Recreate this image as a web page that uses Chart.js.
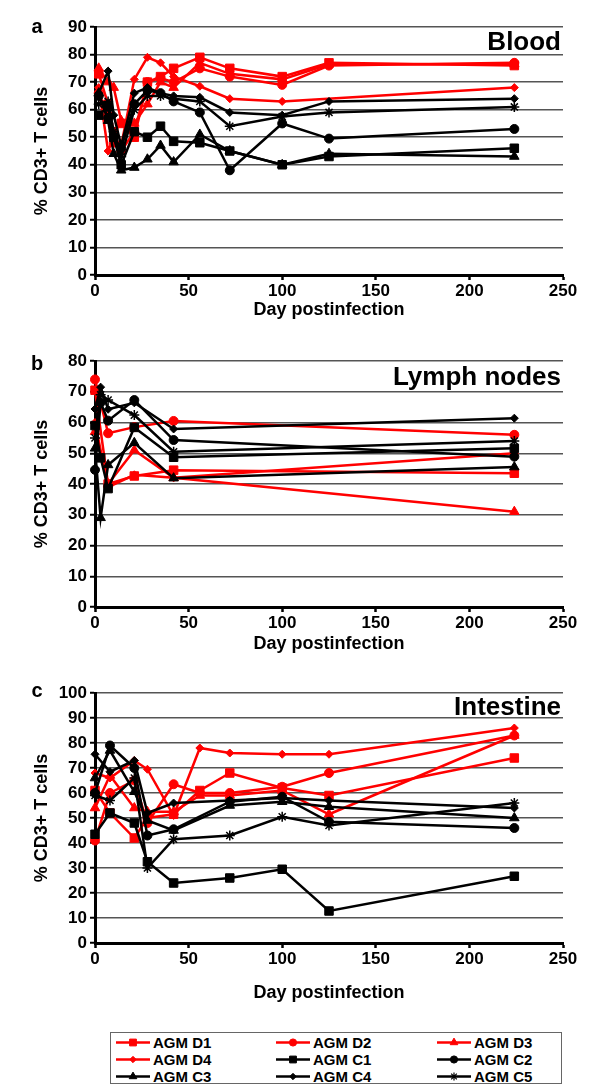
<!DOCTYPE html>
<html>
<head>
<meta charset="utf-8">
<script src="https://cdn.jsdelivr.net/npm/chart.js@4.4.0/dist/chart.umd.min.js"></script>
<style>
body{margin:0;background:#fff;width:600px;height:1091px;position:relative;overflow:hidden;font-family:"Liberation Sans",Arial,sans-serif;}
.panel{position:absolute;left:0;}
#legend{position:absolute;left:110px;top:1032px;width:452px;height:52px;border:1px solid #666;box-sizing:border-box;}
.item{position:absolute;height:17px;font-weight:bold;font-size:15px;line-height:17px;color:#000;}
.item canvas{position:absolute;left:0;top:0;}
.item span{position:absolute;left:37px;top:0;white-space:nowrap;}
</style>
</head>
<body>
<canvas id="blood" class="panel" width="600" height="330" style="top:0px"></canvas>
<canvas id="lymph" class="panel" width="600" height="330" style="top:330px"></canvas>
<canvas id="gut" class="panel" width="600" height="360" style="top:660px"></canvas>
<div id="legend"></div>
<script>
// series names and look
var seriesNames = ['AGM D1', 'AGM D2', 'AGM D3', 'AGM D4', 'AGM C1', 'AGM C2', 'AGM C3', 'AGM C4', 'AGM C5'];
var seriesColors = ['#ff0000', '#ff0000', '#ff0000', '#ff0000', '#000000', '#000000', '#000000', '#000000', '#000000'];
var seriesMarkers = ['rect', 'circle', 'triangle', 'rectRot', 'rect', 'circle', 'triangle', 'rectRot', 'star'];
var markerSizes = [6, 4.5, 5.5, 4, 6, 4.5, 5.5, 4, 5];

// a - Blood
var bloodDays = [2, 7, 10, 14, 21, 28, 35, 42, 56, 72, 100, 125, 224];
var bloodD1 = [73, 62, 52, 55, 50, 70, 72, 75, 79, 75, 72, 77, 76];
var bloodD2 = [66, 58, 48, 45, 52, 70, 71.5, 70, 75, 72, 69, 76, 77];
var bloodD3 = [75, 70, 68, 56, 55, 62, 70, 68, 77, 73, 71, 76.5, 76.5];
var bloodD4 = [68, 45, 50, 47, 71, 79, 77, 72, 68.5, 64, 63, null, 68];
var bloodC1 = [58, 61, 50, 40, 52, 50, 54, 48.5, 48, 45, 40, 43, 46];
var bloodC2 = [65, 57, 50, 46, 62, 67, 66, 63, 59, 38, 55, 49.5, 53];
var bloodC3 = [66, 56, 44, 38, 39, 42, 47, 41, 51, 45, 40, 44, 43];
var bloodC4 = [66, 74, 58, 47, 66, 68, 66, 65, 64.5, 59, 58, 63, 64];
var bloodC5 = [62, 63, 52, 43, 60, 65, 65, 64, 63, 54, 57.5, 59, 61];

// b - Lymph nodes
var lymphDays = [0, 3, 7, 21, 42, 224];
var lymphD1 = [70.5, null, 40, 42.6, 44.5, 43.5];
var lymphD2 = [74, null, 56.5, 58.5, 60.5, 56];
var lymphD3 = [57, null, 40, 51, 42, 31];
var lymphD4 = [60, null, 39, 43, 42, 50];
var lymphC1 = [59, 48.5, 38.5, 58.4, 48.7, 51.6];
var lymphC2 = [44.6, 66.5, 60.6, 67.3, 54.3, 48.9];
var lymphC3 = [51.6, 29, 46.2, 53.4, 41.9, 45.5];
var lymphC4 = [64.4, 71.5, 64.3, 66.4, 57.9, 61.4];
var lymphC5 = [55, 69, 67.3, 62.4, 50.5, 54];

// c - Intestine
var gutDays = [0, 8, 21, 28, 42, 56, 72, 100, 125, 224];
var gutD1 = [61, 52, 42, 50, 51.5, 61, 68, 62, 59, 74];
var gutD2 = [41, 60, 65, 48, 63.5, 60, 60, 62.5, 68, 83];
var gutD3 = [54, 67, 54, 52.5, 52.5, 59, 59, 61, 51.5, 83];
var gutD4 = [68, 66, 73, 69.5, 51, 78, 76, 75.5, 75.5, 86];
var gutC1 = [43.5, 52, 48, 32.5, 24, null, 26, 29.5, 12.8, 26.7];
var gutC2 = [60, 79, 70, 43, 45.5, null, 56.5, 58.5, 48.5, 46];
var gutC3 = [66, 77, 60.5, 49, 45, null, 55, 56.5, 54.5, 50];
var gutC4 = [75.5, 68.5, 73, 52, 56, null, 57, 58, 57, 54];
var gutC5 = [59, 57, 66, 30, 41.5, null, 43, 50.5, 47, 56];

var fontFamily = '"Liberation Sans", Arial, sans-serif';

var panelText = {
    id: 'panelText',
    afterDraw: function (chart, args, opts) {
        var ctx = chart.ctx;
        ctx.save();
        ctx.fillStyle = '#000';
        ctx.textBaseline = 'alphabetic';
        ctx.font = 'bold 20px ' + fontFamily;
        ctx.textAlign = 'center';
        ctx.fillText(opts.letter, 37, opts.letterY);
        ctx.font = 'bold 26px ' + fontFamily;
        ctx.textAlign = 'right';
        ctx.fillText(opts.title, 561, opts.titleY);
        ctx.restore();
    }
};

function buildSets(days, lists) {
    var sets = [];
    for (var i = 0; i < lists.length; i++) {
        var pts = [];
        for (var k = 0; k < days.length; k++) {
            if (lists[i][k] !== null) pts.push({x: days[k], y: lists[i][k]});
        }
        sets.push({
            label: seriesNames[i],
            data: pts,
            borderColor: seriesColors[i],
            backgroundColor: seriesColors[i],
            borderWidth: 2.5,
            pointStyle: seriesMarkers[i],
            pointRadius: markerSizes[i],
            pointBorderWidth: seriesMarkers[i] === 'star' ? 1.5 : 1,
            pointBackgroundColor: seriesColors[i],
            pointBorderColor: seriesColors[i],
            tension: 0,
            clip: false,
            order: 20 - i
        });
    }
    return sets;
}

function makePanel(id, days, lists, yMax, g) {
    var tickFont = {family: fontFamily, size: 17, weight: 'bold'};
    var titleFont = {family: fontFamily, size: 18, weight: 'bold'};
    return new Chart(document.getElementById(id).getContext('2d'), {
        type: 'line',
        data: {datasets: buildSets(days, lists)},
        plugins: [panelText],
        options: {
            responsive: false,
            animation: false,
            devicePixelRatio: 1,
            layout: {padding: {left: 0, right: 37, top: g.top, bottom: 0}},
            plugins: {
                legend: {display: false},
                tooltip: {enabled: false},
                panelText: {letter: g.letter, letterY: g.letterY, title: g.title, titleY: g.titleY}
            },
            scales: {
                x: {
                    type: 'linear', min: 0, max: 250,
                    ticks: {stepSize: 50, color: '#000', font: tickFont, padding: 1, maxRotation: 0},
                    grid: {drawOnChartArea: false, drawTicks: true, tickLength: 5, tickColor: '#000', tickWidth: 2.5},
                    border: {display: true, color: '#000', width: 3},
                    title: {display: true, text: 'Day postinfection', color: '#000', font: titleFont,
                        padding: {top: 0, bottom: g.titlePad}},
                    afterFit: function (s) { s.height = g.xh; }
                },
                y: {
                    min: 0, max: yMax,
                    ticks: {stepSize: 10, color: '#000', font: tickFont, padding: 3},
                    grid: {color: '#555', lineWidth: 1.5, drawTicks: true, tickLength: 5, tickColor: '#000', tickWidth: 2},
                    border: {display: true, color: '#000', width: 3},
                    title: {display: true, text: '% CD3+ T cells', color: '#000', font: titleFont,
                        padding: {top: 31, bottom: 0}},
                    afterFit: function (s) { s.width = 95; }
                }
            }
        }
    });
}

makePanel('blood', bloodDays,
    [bloodD1, bloodD2, bloodD3, bloodD4, bloodC1, bloodC2, bloodC3, bloodC4, bloodC5], 90,
    {top: 27, xh: 55, titlePad: 9, letter: 'a', letterY: 33, title: 'Blood', titleY: 50});
makePanel('lymph', lymphDays,
    [lymphD1, lymphD2, lymphD3, lymphD4, lymphC1, lymphC2, lymphC3, lymphC4, lymphC5], 80,
    {top: 31, xh: 53, titlePad: 5, letter: 'b', letterY: 40, title: 'Lymph nodes', titleY: 55});
makePanel('gut', gutDays,
    [gutD1, gutD2, gutD3, gutD4, gutC1, gutC2, gutC3, gutC4, gutC5], 100,
    {top: 33, xh: 77, titlePad: 16, letter: 'c', letterY: 37, title: 'Intestine', titleY: 55});

// legend: 3 columns x 3 rows
var legend = document.getElementById('legend');
var colX = [5, 165, 326];
var rowY = [1, 18, 35];
for (var i = 0; i < seriesNames.length; i++) {
    var item = document.createElement('div');
    item.className = 'item';
    item.style.left = colX[i % 3] + 'px';
    item.style.top = rowY[Math.floor(i / 3)] + 'px';
    var c = document.createElement('canvas');
    c.width = 34;
    c.height = 17;
    var ctx = c.getContext('2d');
    ctx.strokeStyle = seriesColors[i];
    ctx.lineWidth = 2.5;
    ctx.beginPath();
    ctx.moveTo(0, 8.5);
    ctx.lineTo(34, 8.5);
    ctx.stroke();
    ctx.fillStyle = seriesColors[i];
    ctx.lineWidth = seriesMarkers[i] === 'star' ? 1.2 : 1;
    Chart.helpers.drawPoint(ctx, {pointStyle: seriesMarkers[i], radius: markerSizes[i] * 0.8, borderWidth: 1}, 17, 8.5);
    var t = document.createElement('span');
    t.textContent = seriesNames[i];
    item.appendChild(c);
    item.appendChild(t);
    legend.appendChild(item);
}
</script>
</body>
</html>
